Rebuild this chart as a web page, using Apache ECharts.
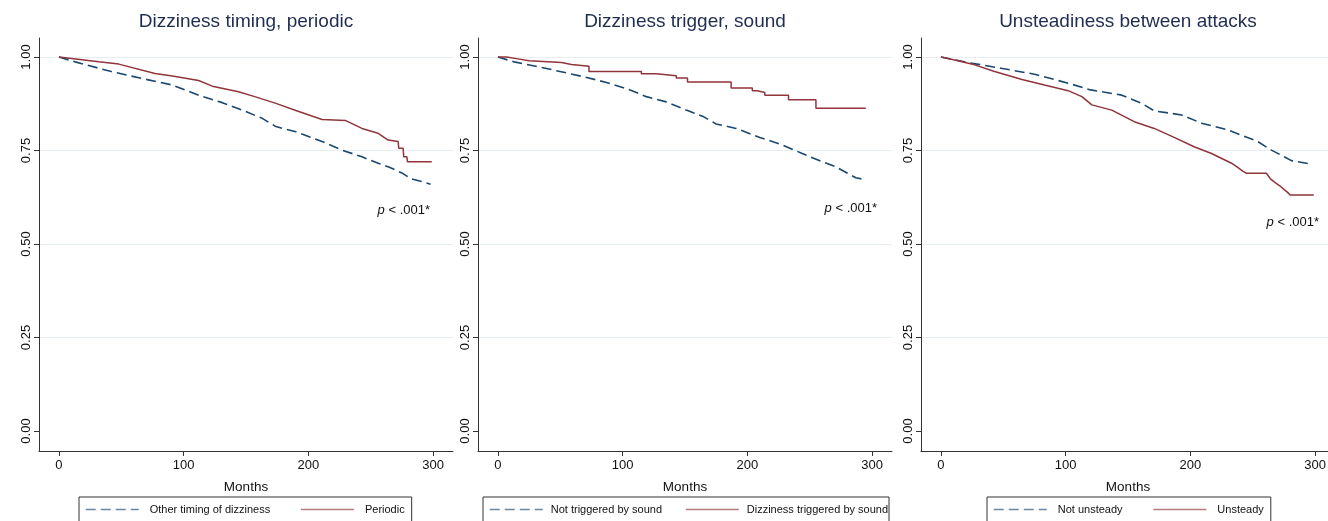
<!DOCTYPE html>
<html><head><meta charset="utf-8">
<script src="https://cdn.jsdelivr.net/npm/echarts@6/dist/echarts.min.js"></script>
<style>html,body{margin:0;padding:0;background:#fff}#c{width:1328px;height:521px}</style>
</head><body><div id="c"></div>
<script>
// ---- data ----
const panelTitles = ['Dizziness timing, periodic', 'Dizziness trigger, sound', 'Unsteadiness between attacks'];
const legendNames = [
  ['Other timing of dizziness', 'Periodic'],
  ['Not triggered by sound', 'Dizziness triggered by sound'],
  ['Not unsteady', 'Unsteady']
];
const xTicks = [0, 100, 200, 300];
const yTicks = [0, 0.25, 0.5, 0.75, 1];
const xTitle = 'Months';
const pSymbol = 'p';
const pRest = ' < .001*';

// Panel 1: Dizziness timing, periodic
const p1OtherMonths = [0, 13, 42, 66, 91, 112, 131, 147, 163, 174, 190, 211, 227, 243, 256, 265, 275, 282, 290, 298];
const p1OtherSurv   = [1, 0.987, 0.961, 0.943, 0.925, 0.898, 0.878, 0.858, 0.836, 0.814, 0.800, 0.774, 0.751, 0.733, 0.716, 0.705, 0.690, 0.675, 0.668, 0.660];
const p1PeriodicMonths = [0, 32, 48, 77, 91, 112, 123, 144, 157, 174, 190, 211, 230, 243, 256, 264, 272, 272.5, 276, 276.5, 279, 279.5, 299];
const p1PeriodicSurv   = [1, 0.987, 0.981, 0.956, 0.949, 0.937, 0.922, 0.907, 0.894, 0.876, 0.857, 0.833, 0.830, 0.809, 0.796, 0.778, 0.774, 0.756, 0.756, 0.733, 0.733, 0.720, 0.720];

// Panel 2: Dizziness trigger, sound
const p2NotMonths = [0, 13, 42, 69, 87, 106, 119, 135, 151, 165, 175, 191, 210, 228, 244, 260, 270, 280, 287, 295];
const p2NotSurv   = [1, 0.987, 0.967, 0.947, 0.932, 0.912, 0.894, 0.880, 0.858, 0.840, 0.821, 0.809, 0.785, 0.765, 0.742, 0.720, 0.708, 0.690, 0.677, 0.672];
const p2SoundMonths = [0, 7, 16, 25, 51, 59, 73, 115, 127, 143, 152, 187, 204, 208, 214, 233, 255, 295];
const p2SoundSurv   = [1, 0.995, 0.990, 0.985, 0.980, 0.975, 0.961, 0.955, 0.950, 0.944, 0.933, 0.917, 0.910, 0.905, 0.898, 0.886, 0.863, 0.863];

// Panel 3: Unsteadiness between attacks
const p3NotMonths = [0, 22, 48, 75, 102, 120, 145, 161, 171, 193, 209, 230, 241, 254, 265, 276, 281, 298];
const p3NotSurv   = [1, 0.985, 0.970, 0.954, 0.930, 0.912, 0.898, 0.876, 0.856, 0.845, 0.823, 0.805, 0.791, 0.774, 0.751, 0.732, 0.723, 0.713];
const p3UnsteadyMonths = [0, 11, 27, 43, 65, 83, 102, 113, 121, 137, 155, 171, 187, 203, 217, 233, 238, 242, 245, 261, 264, 268, 272, 275, 278, 280, 299];
const p3UnsteadySurv   = [1, 0.992, 0.979, 0.961, 0.940, 0.925, 0.910, 0.894, 0.872, 0.858, 0.827, 0.809, 0.785, 0.760, 0.742, 0.716, 0.705, 0.695, 0.689, 0.689, 0.675, 0.664, 0.655, 0.646, 0.638, 0.631, 0.631];

// ---- chart ----
const FONT = '"Liberation Sans", Arial, Helvetica, sans-serif';
const BLUE = '#1a476f', RED = '#90353b';
const gridLefts = [39, 478, 921];
const GW = 414, GH = 413, GT = 38;
const panels = [
  {blue: [p1OtherMonths, p1OtherSurv], red: [p1PeriodicMonths, p1PeriodicSurv], redStep: false},
  {blue: [p2NotMonths, p2NotSurv], red: [p2SoundMonths, p2SoundSurv], redStep: true},
  {blue: [p3NotMonths, p3NotSurv], red: [p3UnsteadyMonths, p3UnsteadySurv], redStep: false}
];
const legendCfg = [
  {left: 79, gap: 30, tpad: 6, rpad: 7},
  {left: 483, gap: 23, tpad: 3, rpad: 1},
  {left: 987, gap: 30, tpad: 6, rpad: 7}
];
const pPos = [[430, 210], [877, 208], [1319, 222]];

const pairs = (xs, ys) => xs.map((x, k) => [x, ys[k]]);

const option = {
  animation: false,
  backgroundColor: '#fff',
  grid: gridLefts.map(l => ({left: l, top: GT, width: GW, height: GH, containLabel: false, outerBoundsMode: 'none'})),
  xAxis: gridLefts.map((l, i) => ({
    type: 'value', gridIndex: i, min: -16, max: 316,
    axisLine: {show: true, onZero: false, lineStyle: {color: '#333', width: 1}},
    axisTick: {show: true, customValues: xTicks, length: 5, lineStyle: {color: '#333', width: 1}},
    axisLabel: {show: true, customValues: xTicks, color: '#111', fontSize: 13, margin: 8, fontFamily: FONT},
    splitLine: {show: false},
    name: xTitle, nameLocation: 'middle', nameGap: 29,
    nameTextStyle: {color: '#111', fontSize: 13.5, fontFamily: FONT}
  })),
  yAxis: gridLefts.map((l, i) => ({
    type: 'value', gridIndex: i, min: -0.0535, max: 1.0508,
    axisLine: {show: true, onZero: false, lineStyle: {color: '#333', width: 1}},
    axisTick: {show: true, customValues: yTicks, length: 5, lineStyle: {color: '#333', width: 1}},
    axisLabel: {show: true, customValues: yTicks, rotate: 90, margin: 6, color: '#111', fontSize: 13, fontFamily: FONT,
      formatter: v => Number(v).toFixed(2)},
    splitLine: {show: true, showMinLine: false, showMaxLine: true, lineStyle: {color: '#e6eef1', width: 1}}
  })),
  legend: legendCfg.map((c, i) => ({
    left: c.left, top: 497, orient: 'horizontal',
    data: legendNames[i],
    itemWidth: 53, itemHeight: 10, itemGap: c.gap,
    padding: [7, c.rpad, 8, 6],
    borderColor: '#333', borderWidth: 1, borderRadius: 0, backgroundColor: '#fff',
    selectedMode: false,
    textStyle: {fontSize: 11, color: '#111', fontFamily: FONT, padding: [0, 0, 0, c.tpad]},
    itemStyle: {opacity: 0, borderWidth: 0},
    lineStyle: {width: 1.5, opacity: 0.65}
  })),
  series: panels.flatMap((p, i) => [
    {
      type: 'line', name: legendNames[i][0], xAxisIndex: i, yAxisIndex: i,
      data: pairs(p.blue[0], p.blue[1]), symbol: 'none', silent: true,
      lineStyle: {color: BLUE, width: 1.6, type: [10, 5]}, itemStyle: {color: BLUE}
    },
    {
      type: 'line', name: legendNames[i][1], xAxisIndex: i, yAxisIndex: i,
      data: pairs(p.red[0], p.red[1]), symbol: 'none', silent: true,
      step: p.redStep ? 'end' : false,
      lineStyle: {color: RED, width: 1.5, type: 'solid'}, itemStyle: {color: RED}
    }
  ]),
  graphic: [
    ...panelTitles.map((t, i) => ({
      type: 'text', x: gridLefts[i] + GW / 2, y: 22, silent: true,
      style: {text: t, align: 'center', verticalAlign: 'middle', fontSize: 19, fontFamily: FONT, fill: '#1f2d50'}
    })),
    ...pPos.map(p => ({
      type: 'text', x: p[0], y: p[1], silent: true,
      style: {
        text: '{i|' + pSymbol + '}' + pRest,
        rich: {i: {fontStyle: 'italic', fontSize: 13, fontFamily: FONT, fill: '#111'}},
        align: 'right', verticalAlign: 'middle', fontSize: 13, fontFamily: FONT, fill: '#111'
      }
    }))
  ]
};

const chart = echarts.init(document.getElementById('c'), null, {renderer: 'canvas'});
chart.setOption(option);
</script>
</body></html>
